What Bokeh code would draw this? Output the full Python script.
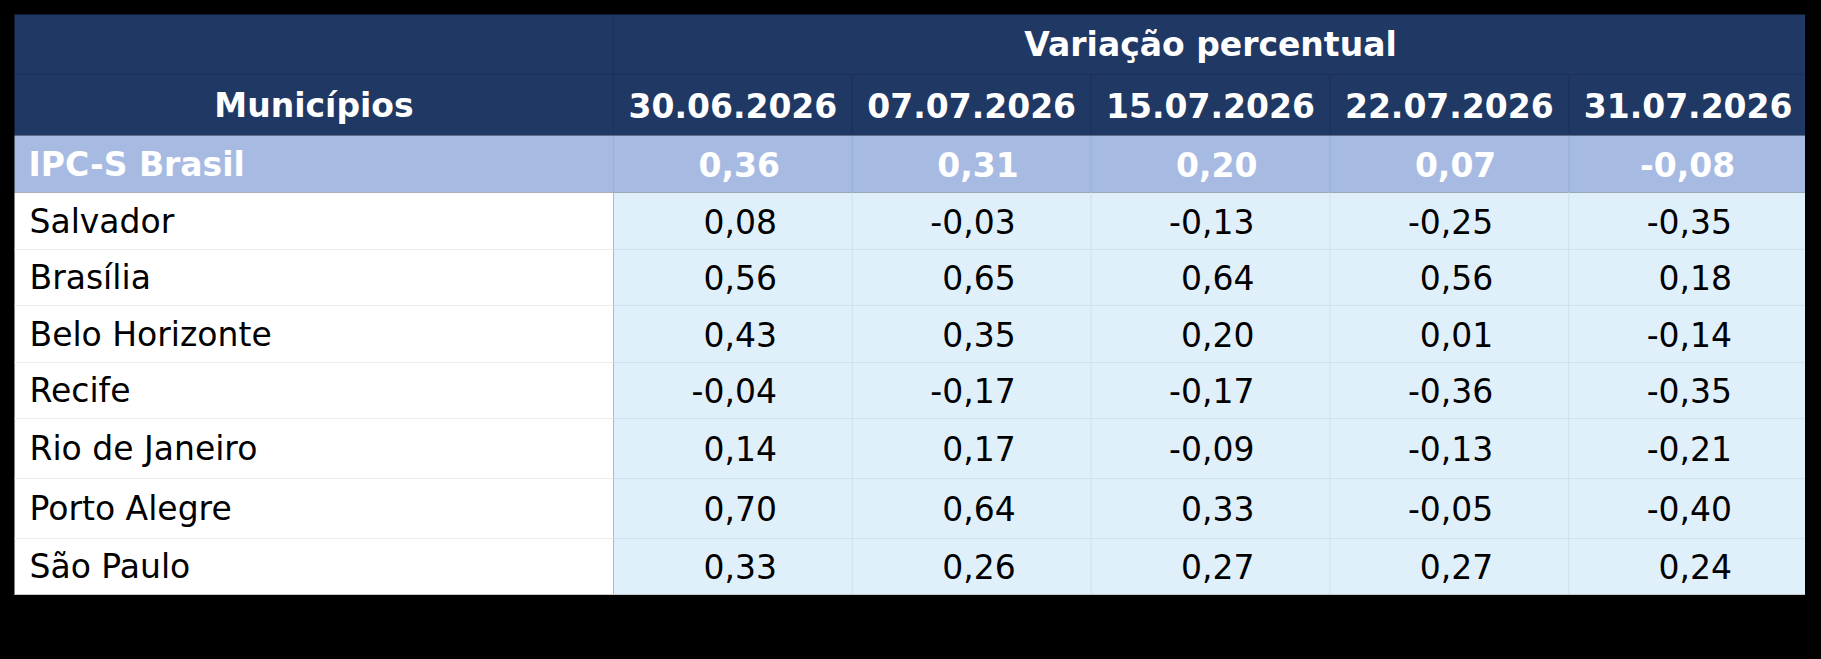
from bokeh.plotting import figure
from bokeh.models import Range1d
from bokeh.embed import file_html
from bokeh.resources import INLINE
from bokeh.core.properties import value

# ---------------- data ----------------
titulo_grupo = "Variação percentual"
titulo_coluna = "Municípios"
datas = ["30.06.2026", "07.07.2026", "15.07.2026", "22.07.2026", "31.07.2026"]
municipios = ["IPC-S Brasil", "Salvador", "Brasília", "Belo Horizonte", "Recife",
              "Rio de Janeiro", "Porto Alegre", "São Paulo"]
v_30_06 = [0.36, 0.08, 0.56, 0.43, -0.04, 0.14, 0.70, 0.33]
v_07_07 = [0.31, -0.03, 0.65, 0.35, -0.17, 0.17, 0.64, 0.26]
v_15_07 = [0.20, -0.13, 0.64, 0.20, -0.17, -0.09, 0.33, 0.27]
v_22_07 = [0.07, -0.25, 0.56, 0.01, -0.36, -0.13, -0.05, 0.27]
v_31_07 = [-0.08, -0.35, 0.18, -0.14, -0.35, -0.21, -0.40, 0.24]
series = [v_30_06, v_07_07, v_15_07, v_22_07, v_31_07]

# ---------------- layout / style ----------------
W, H = 1805, 643
X0, Y0 = 14, 14
COL0_W = 599
DATE_W = 238.8
ROW_H = [60, 61, 57, 57, 56, 57, 56, 60, 60, 56]

NAVY = "#203864"
NAVY_LINE = "#1a3060"
IPC_BG = "#a7bbe2"
IPC_LINE = "#9aafd5"
CELL_BG = "#e0f0fa"
CELL_LINE = "#cfe1ee"
WHITE_LINE = "#ececec"
FONT = value("DejaVu Sans")
FS = "33px"

col_edges = [X0, X0 + COL0_W] + [X0 + COL0_W + DATE_W * (k + 1) for k in range(len(datas))]
row_edges = [Y0]
for h in ROW_H:
    row_edges.append(row_edges[-1] + h)
XR = col_edges[-1]
YB = row_edges[-1]


def rmid(i):
    return (row_edges[i] + row_edges[i + 1]) / 2


def cmid(j):
    return (col_edges[j] + col_edges[j + 1]) / 2


def fmt(v):
    return f"{v:.2f}".replace(".", ",")


p = figure(width=W, height=H, x_range=Range1d(0, W), y_range=Range1d(H, 0),
           output_backend="svg", toolbar_location=None, min_border=0,
           x_axis_location=None, y_axis_location=None)
p.grid.visible = False
p.outline_line_color = None
p.background_fill_color = "#000000"
p.border_fill_color = "#000000"

# ---------------- cell backgrounds ----------------
ql, qr, qt, qb, qc = [], [], [], [], []
ql.append(col_edges[0]); qr.append(XR); qt.append(row_edges[0]); qb.append(row_edges[2]); qc.append(NAVY)
ql.append(col_edges[0]); qr.append(XR); qt.append(row_edges[2]); qb.append(row_edges[3]); qc.append(IPC_BG)
ql.append(col_edges[0]); qr.append(col_edges[1]); qt.append(row_edges[3]); qb.append(YB); qc.append("#ffffff")
ql.append(col_edges[1]); qr.append(XR); qt.append(row_edges[3]); qb.append(YB); qc.append(CELL_BG)
p.quad(left=ql, right=qr, top=qt, bottom=qb, fill_color=qc, line_color=None)

# ---------------- grid lines ----------------
sx0, sy0, sx1, sy1, sc = [], [], [], [], []


def seg(x0, y0, x1, y1, c):
    sx0.append(x0); sy0.append(y0); sx1.append(x1); sy1.append(y1); sc.append(c)


seg(col_edges[0], row_edges[1], XR, row_edges[1], NAVY_LINE)
seg(col_edges[1], row_edges[0], col_edges[1], row_edges[2], NAVY_LINE)
for j in range(2, len(col_edges) - 1):
    seg(col_edges[j], row_edges[1], col_edges[j], row_edges[2], NAVY_LINE)
for j in range(1, len(col_edges) - 1):
    seg(col_edges[j], row_edges[2], col_edges[j], row_edges[3], IPC_LINE)
for j in range(2, len(col_edges) - 1):
    seg(col_edges[j], row_edges[3], col_edges[j], YB, CELL_LINE)
for i in range(4, len(row_edges) - 1):
    seg(col_edges[0], row_edges[i], col_edges[1], row_edges[i], WHITE_LINE)
    seg(col_edges[1], row_edges[i], XR, row_edges[i], CELL_LINE)
p.segment(x0=sx0, y0=sy0, x1=sx1, y1=sy1, line_color=sc, line_width=1)
p.segment(x0=[col_edges[0]], y0=[YB], x1=[XR], y1=[YB], line_color="#c8c8c8", line_width=1)

# ---------------- header texts ----------------
hx = [(col_edges[1] + XR) / 2, cmid(0)] + [cmid(j + 1) for j in range(len(datas))]
hy = [rmid(0), rmid(1)] + [rmid(1)] * len(datas)
ht = [titulo_grupo, titulo_coluna] + datas
p.text(x=hx, y=hy, text=ht, text_color="#ffffff", text_font=FONT, text_font_size=FS,
       text_font_style="bold", text_align="center", text_baseline="middle")

# ---------------- IPC-S Brasil row ----------------
p.text(x=[X0 + 14], y=[rmid(2)], text=[municipios[0]], text_color="#ffffff", text_font=FONT,
       text_font_size=FS, text_font_style="bold", text_align="left", text_baseline="middle")
p.text(x=[cmid(j + 1) + 47 for j in range(len(datas))], y=[rmid(2)] * len(datas),
       text=[fmt(s[0]) for s in series], text_color="#ffffff", text_font=FONT,
       text_font_size=FS, text_font_style="bold", text_align="right", text_baseline="middle")

# ---------------- municipality rows ----------------
names = municipios[1:]
p.text(x=[X0 + 15] * len(names), y=[rmid(i + 3) for i in range(len(names))], text=names,
       text_color="#000000", text_font=FONT, text_font_size=FS, text_align="left",
       text_baseline="middle")
vx, vy, vt = [], [], []
for j, s in enumerate(series):
    for i, v in enumerate(s[1:]):
        vx.append(cmid(j + 1) + 44)
        vy.append(rmid(i + 3))
        vt.append(fmt(v))
p.text(x=vx, y=vy, text=vt, text_color="#000000", text_font=FONT, text_font_size=FS,
       text_align="right", text_baseline="middle")

html = file_html(p, INLINE)
html = html.replace("</head>", "<style>html,body{background:#000000;}</style></head>", 1)
open("out.html", "w").write(html)
